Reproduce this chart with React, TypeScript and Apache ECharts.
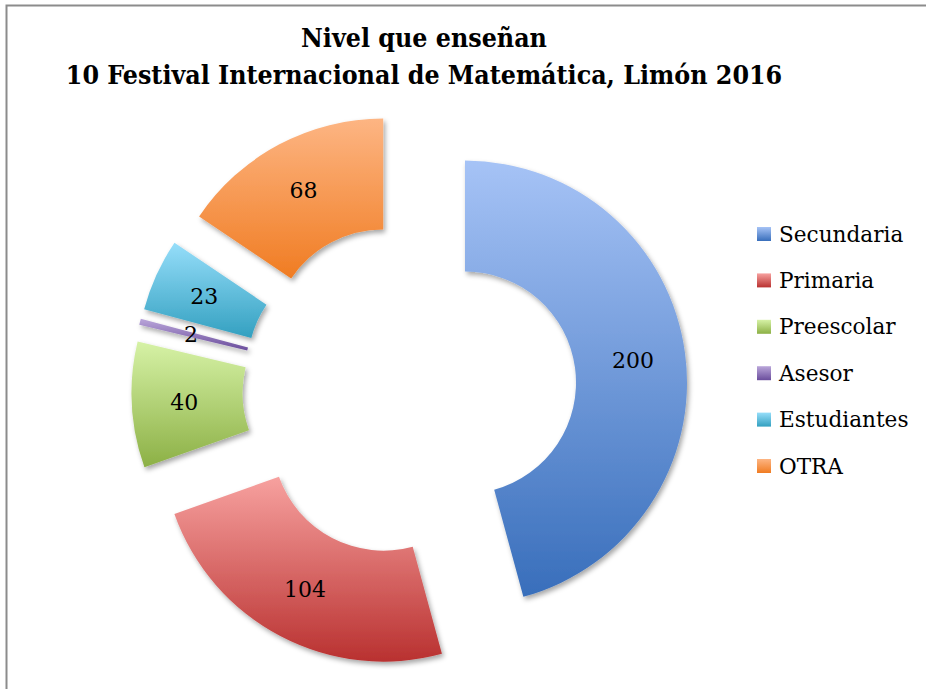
import React, { useEffect, useRef } from "react";
import * as echarts from "echarts";

const categories = ["Secundaria", "Primaria", "Preescolar", "Asesor", "Estudiantes", "OTRA"];
const values = [200, 104, 40, 2, 23, 68];
const lightColors = ["#a6c3f6", "#f7a19f", "#d6f2a6", "#baa6da", "#96defa", "#fdb583"];
const darkColors = ["#386ebb", "#b93130", "#8cb045", "#6a4d9c", "#33a0c0", "#f07c22"];

export default function App() {
  const ref = useRef<HTMLDivElement>(null);
  useEffect(() => {
    if (!ref.current) return;
    const chart = echarts.init(ref.current, null, { renderer: "svg" });
    const data = categories.map((name, i) => ({
      name,
      value: values[i],
      selected: true,
      itemStyle: {
        color: new echarts.graphic.LinearGradient(0, 0, 0, 1, [
          { offset: 0, color: lightColors[i] },
          { offset: 1, color: darkColors[i] },
        ]),
      },
    }));
    chart.setOption({
      animation: false,
      backgroundColor: "#ffffff",
      title: {
        text: "Nivel que enseñan\n10 Festival Internacional de Matemática, Limón 2016",
        left: 419,
        top: 14,
        textAlign: "center",
        textStyle: {
          fontFamily: "DejaVu Serif Condensed",
          fontWeight: "bold",
          fontSize: 26.5,
          lineHeight: 37,
          color: "#000",
        },
      },
      legend: {
        orient: "vertical",
        left: 752,
        top: 216,
        itemWidth: 14,
        itemHeight: 14,
        itemGap: 20.4,
        icon: "rect",
        selectedMode: false,
        data: categories,
        textStyle: {
          fontFamily: "DejaVu Serif",
          fontSize: 21.6,
          lineHeight: 26,
          color: "#000",
          padding: [0, 0, 0, 3],
        },
      },
      graphic: [
        {
          type: "polyline",
          shape: { points: [[6.5, 689], [6.5, 5.5], [926, 5.5]] },
          style: { stroke: "#8c8c8c", lineWidth: 2, fill: "none" },
          silent: true,
        },
      ],
      series: [
        {
          type: "pie",
          center: [409.5, 390],
          radius: [111, 222],
          startAngle: 90,
          clockwise: true,
          selectedMode: "multiple",
          selectedOffset: 56,
          avoidLabelOverlap: false,
          emphasis: { disabled: true },
          label: {
            show: true,
            position: "inside",
            formatter: "{c}",
            fontFamily: "DejaVu Serif",
            fontSize: 22,
            color: "#000",
          },
          labelLine: { show: false },
          itemStyle: {
            shadowBlur: 5,
            shadowOffsetX: 2,
            shadowOffsetY: 3,
            shadowColor: "rgba(0,0,0,0.35)",
          },
          data,
        },
      ],
    });
    return () => chart.dispose();
  }, []);
  return (
    <div
      ref={ref}
      style={{ position: "absolute", left: 0, top: 0, width: 926, height: 689 }}
    />
  );
}
